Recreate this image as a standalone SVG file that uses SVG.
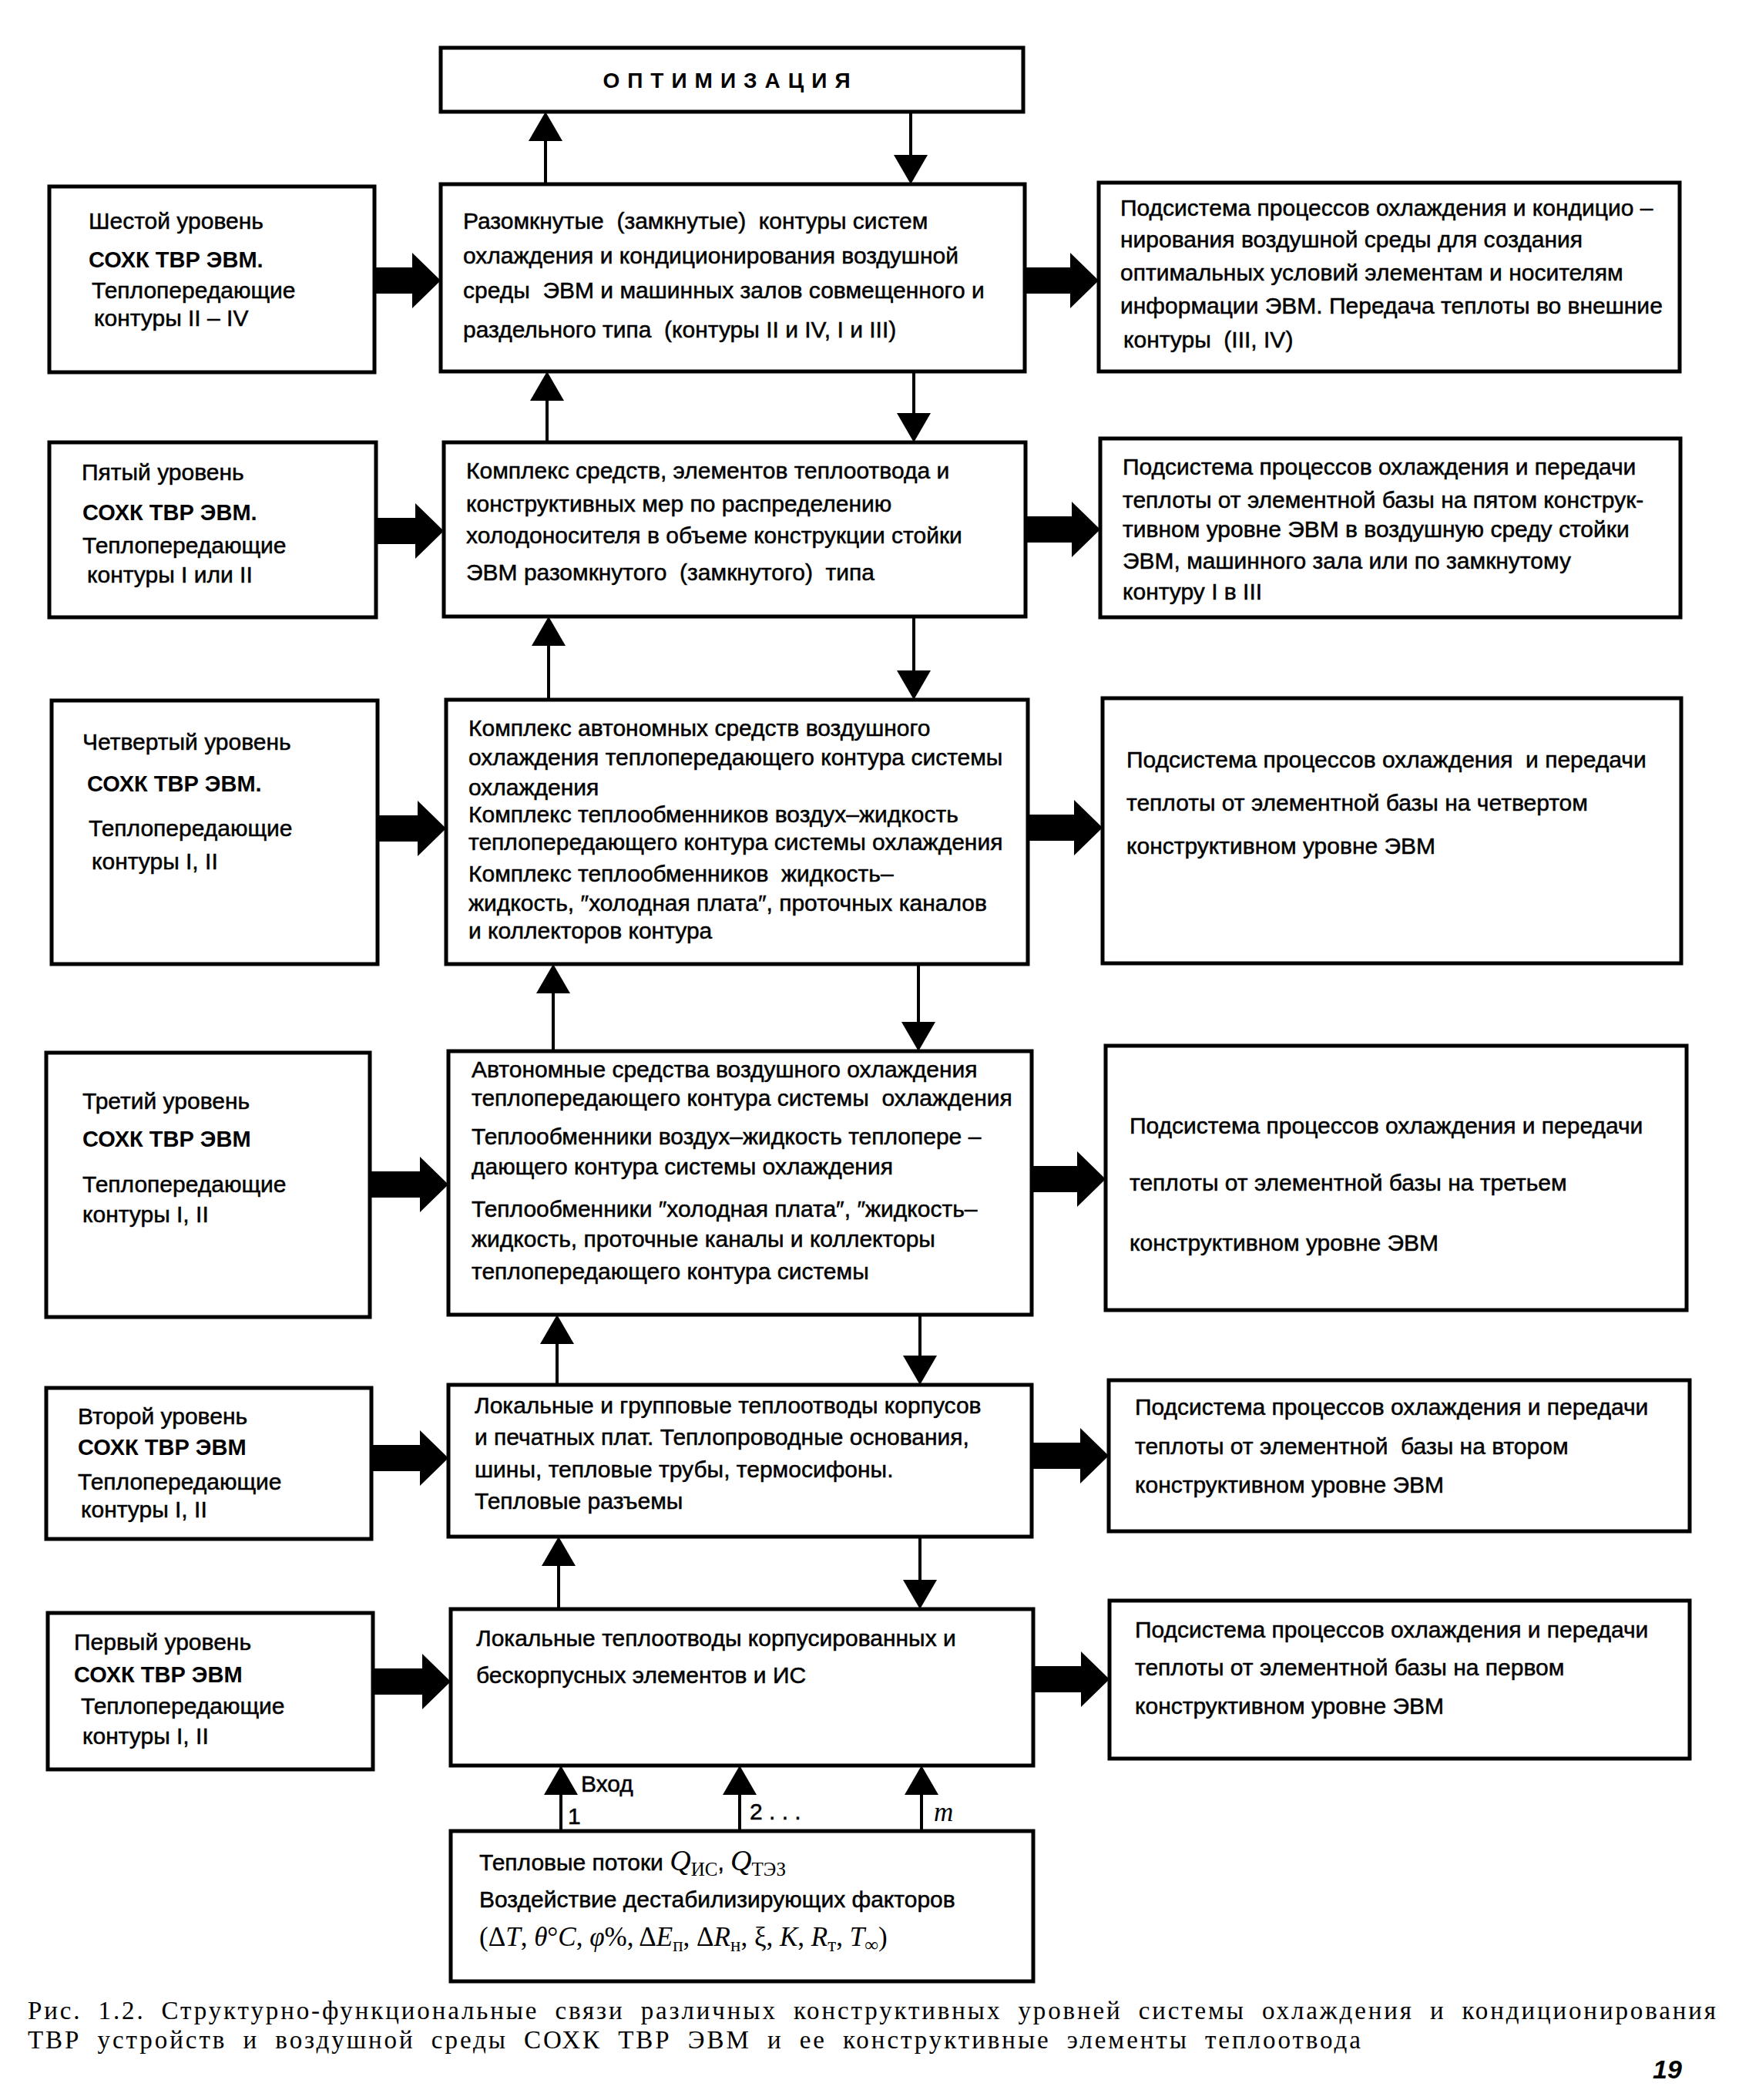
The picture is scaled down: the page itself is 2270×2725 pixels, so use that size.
<svg xmlns="http://www.w3.org/2000/svg" width="2270" height="2725" viewBox="0 0 2270 2725">
<style>
.box{fill:#fff;stroke:#000;stroke-width:5}
.t{font-family:"Liberation Sans",Arial,sans-serif;font-size:30px;fill:#000;stroke:#000;stroke-width:0.5px;white-space:pre}
.b{font-size:29px;font-weight:bold;stroke-width:0}
.opt{font-family:"Liberation Sans",Arial,sans-serif;font-size:28px;font-weight:bold;letter-spacing:10px}
.ln{stroke:#000;stroke-width:4;fill:none;marker-end:url(#ah)}
.fat{fill:#000}
.ser{font-family:"Liberation Serif","Times New Roman",serif;font-size:35px;fill:#000;stroke-width:0}
.q{font-size:38px}
.it{font-style:italic}
.sb{font-size:25px}
.cap{font-family:"Liberation Serif","Times New Roman",serif;font-size:33px;fill:#000;word-spacing:10px}
.pg{font-family:"Liberation Sans",Arial,sans-serif;font-size:34px;font-weight:bold;font-style:italic}
</style>
<defs>
<marker id="ah" markerUnits="userSpaceOnUse" markerWidth="40" markerHeight="44" viewBox="0 0 38 44" refX="28" refY="22" orient="auto">
<path d="M0,0 L38,22 L0,44 Z" fill="#000"/>
</marker>
</defs>

<g id="connectors">
<line class="ln" x1="708" y1="239" x2="708" y2="155"/>
<line class="ln" x1="1182" y1="145" x2="1182" y2="229"/>
<line class="ln" x1="710" y1="574" x2="710" y2="492"/>
<line class="ln" x1="1186" y1="482" x2="1186" y2="564"/>
<line class="ln" x1="712" y1="908" x2="712" y2="810"/>
<line class="ln" x1="1186" y1="800" x2="1186" y2="898"/>
<line class="ln" x1="718" y1="1364" x2="718" y2="1261"/>
<line class="ln" x1="1192" y1="1251" x2="1192" y2="1354"/>
<line class="ln" x1="723" y1="1797" x2="723" y2="1716"/>
<line class="ln" x1="1194" y1="1706" x2="1194" y2="1787"/>
<line class="ln" x1="725" y1="2088" x2="725" y2="2004"/>
<line class="ln" x1="1194" y1="1994" x2="1194" y2="2078"/>
<line class="ln" x1="728" y1="2376" x2="728" y2="2301"/>
<line class="ln" x1="960" y1="2376" x2="960" y2="2301"/>
<line class="ln" x1="1196" y1="2376" x2="1196" y2="2301"/>
<path class="fat" d="M486,347 H535 V328 L572,364 L535,400 V381 H486 Z"/>
<path class="fat" d="M488,672 H539 V653 L576,689 L539,725 V706 H488 Z"/>
<path class="fat" d="M490,1058 H542 V1039 L579,1075 L542,1111 V1092 H490 Z"/>
<path class="fat" d="M480,1520 H545 V1501 L582,1537 L545,1573 V1554 H480 Z"/>
<path class="fat" d="M482,1875 H545 V1856 L582,1892 L545,1928 V1909 H482 Z"/>
<path class="fat" d="M484,2165 H548 V2146 L585,2182 L548,2218 V2199 H484 Z"/>
<path class="fat" d="M1330,347 H1389 V328 L1426,364 L1389,400 V381 H1330 Z"/>
<path class="fat" d="M1331,670 H1391 V651 L1428,687 L1391,723 V704 H1331 Z"/>
<path class="fat" d="M1334,1057 H1394 V1038 L1431,1074 L1394,1110 V1091 H1334 Z"/>
<path class="fat" d="M1336,1513 H1398 V1494 L1435,1530 L1398,1566 V1547 H1336 Z"/>
<path class="fat" d="M1339,1872 H1402 V1853 L1439,1889 L1402,1925 V1906 H1339 Z"/>
<path class="fat" d="M1341,2162 H1403 V2143 L1440,2179 L1403,2215 V2196 H1341 Z"/>
</g>

<g id="opt">
<rect class="box" x="572" y="62" width="756" height="83"/>
<text class="opt" x="948" y="114" text-anchor="middle">ОПТИМИЗАЦИЯ</text>
</g>

<g id="L6">
<rect class="box" x="64" y="242" width="422" height="241"/>
<text class="t" x="115" y="297">Шестой уровень</text>
<text class="t b" x="115" y="347">СОХК ТВР ЭВМ.</text>
<text class="t" x="119" y="387">Теплопередающие</text>
<text class="t" x="122" y="423">контуры II – IV</text>
</g>
<g id="C6">
<rect class="box" x="572" y="239" width="758" height="243"/>
<text class="t" x="601" y="297">Разомкнутые  (замкнутые)  контуры систем</text>
<text class="t" x="601" y="342">охлаждения и кондиционирования воздушной</text>
<text class="t" x="601" y="387">среды  ЭВМ и машинных залов совмещенного и</text>
<text class="t" x="601" y="438">раздельного типа  (контуры II и IV, I и III)</text>
</g>
<g id="R6">
<rect class="box" x="1426" y="237" width="754" height="245"/>
<text class="t" x="1454" y="280">Подсистема процессов охлаждения и кондицио –</text>
<text class="t" x="1454" y="321">нирования воздушной среды для создания</text>
<text class="t" x="1454" y="364">оптимальных условий элементам и носителям</text>
<text class="t" x="1454" y="407">информации ЭВМ. Передача теплоты во внешние</text>
<text class="t" x="1458" y="451">контуры  (III, IV)</text>
</g>

<g id="L5">
<rect class="box" x="64" y="574" width="424" height="227"/>
<text class="t" x="106" y="623">Пятый уровень</text>
<text class="t b" x="107" y="675">СОХК ТВР ЭВМ.</text>
<text class="t" x="107" y="718">Теплопередающие</text>
<text class="t" x="113" y="756">контуры I или II</text>
</g>
<g id="C5">
<rect class="box" x="576" y="574" width="755" height="226"/>
<text class="t" x="605" y="621">Комплекс средств, элементов теплоотвода и</text>
<text class="t" x="605" y="664">конструктивных мер по распределению</text>
<text class="t" x="605" y="705">холодоносителя в объеме конструкции стойки</text>
<text class="t" x="605" y="753">ЭВМ разомкнутого  (замкнутого)  типа</text>
</g>
<g id="R5">
<rect class="box" x="1428" y="569" width="753" height="232"/>
<text class="t" x="1457" y="616">Подсистема процессов охлаждения и передачи</text>
<text class="t" x="1457" y="659">теплоты от элементной базы на пятом конструк-</text>
<text class="t" x="1457" y="697">тивном уровне ЭВМ в воздушную среду стойки</text>
<text class="t" x="1457" y="738">ЭВМ, машинного зала или по замкнутому</text>
<text class="t" x="1457" y="778">контуру I в III</text>
</g>

<g id="L4">
<rect class="box" x="67" y="909" width="423" height="342"/>
<text class="t" x="107" y="973">Четвертый уровень</text>
<text class="t b" x="113" y="1027">СОХК ТВР ЭВМ.</text>
<text class="t" x="115" y="1085">Теплопередающие</text>
<text class="t" x="119" y="1128">контуры I, II</text>
</g>
<g id="C4">
<rect class="box" x="579" y="908" width="755" height="343"/>
<text class="t" x="608" y="955">Комплекс автономных средств воздушного</text>
<text class="t" x="608" y="993">охлаждения теплопередающего контура системы</text>
<text class="t" x="608" y="1032">охлаждения</text>
<text class="t" x="608" y="1067">Комплекс теплообменников воздух–жидкость</text>
<text class="t" x="608" y="1103">теплопередающего контура системы охлаждения</text>
<text class="t" x="608" y="1144">Комплекс теплообменников  жидкость–</text>
<text class="t" x="608" y="1182">жидкость, ″холодная плата″, проточных каналов</text>
<text class="t" x="608" y="1218">и коллекторов контура</text>
</g>
<g id="R4">
<rect class="box" x="1431" y="906" width="751" height="344"/>
<text class="t" x="1462" y="996">Подсистема процессов охлаждения  и передачи</text>
<text class="t" x="1462" y="1052">теплоты от элементной базы на четвертом</text>
<text class="t" x="1462" y="1108">конструктивном уровне ЭВМ</text>
</g>

<g id="L3">
<rect class="box" x="60" y="1366" width="420" height="343"/>
<text class="t" x="107" y="1439">Третий уровень</text>
<text class="t b" x="107" y="1488">СОХК ТВР ЭВМ</text>
<text class="t" x="107" y="1547">Теплопередающие</text>
<text class="t" x="107" y="1586">контуры I, II</text>
</g>
<g id="C3">
<rect class="box" x="582" y="1364" width="757" height="342"/>
<text class="t" x="612" y="1398">Автономные средства воздушного охлаждения</text>
<text class="t" x="612" y="1435">теплопередающего контура системы  охлаждения</text>
<text class="t" x="612" y="1485">Теплообменники воздух–жидкость теплопере –</text>
<text class="t" x="612" y="1524">дающего контура системы охлаждения</text>
<text class="t" x="612" y="1579">Теплообменники ″холодная плата″, ″жидкость–</text>
<text class="t" x="612" y="1618">жидкость, проточные каналы и коллекторы</text>
<text class="t" x="612" y="1660">теплопередающего контура системы</text>
</g>
<g id="R3">
<rect class="box" x="1435" y="1357" width="754" height="343"/>
<text class="t" x="1466" y="1471">Подсистема процессов охлаждения и передачи</text>
<text class="t" x="1466" y="1545">теплоты от элементной базы на третьем</text>
<text class="t" x="1466" y="1623">конструктивном уровне ЭВМ</text>
</g>

<g id="L2">
<rect class="box" x="60" y="1801" width="422" height="196"/>
<text class="t" x="101" y="1848">Второй уровень</text>
<text class="t b" x="101" y="1888">СОХК ТВР ЭВМ</text>
<text class="t" x="101" y="1933">Теплопередающие</text>
<text class="t" x="105" y="1969">контуры I, II</text>
</g>
<g id="C2">
<rect class="box" x="582" y="1797" width="757" height="197"/>
<text class="t" x="616" y="1834">Локальные и групповые теплоотводы корпусов</text>
<text class="t" x="616" y="1875">и печатных плат. Теплопроводные основания,</text>
<text class="t" x="616" y="1917">шины, тепловые трубы, термосифоны.</text>
<text class="t" x="616" y="1958">Тепловые разъемы</text>
</g>
<g id="R2">
<rect class="box" x="1439" y="1791" width="754" height="196"/>
<text class="t" x="1473" y="1836">Подсистема процессов охлаждения и передачи</text>
<text class="t" x="1473" y="1887">теплоты от элементной  базы на втором</text>
<text class="t" x="1473" y="1937">конструктивном уровне ЭВМ</text>
</g>

<g id="L1">
<rect class="box" x="62" y="2093" width="422" height="203"/>
<text class="t" x="96" y="2141">Первый уровень</text>
<text class="t b" x="96" y="2183">СОХК ТВР ЭВМ</text>
<text class="t" x="105" y="2224">Теплопередающие</text>
<text class="t" x="107" y="2263">контуры I, II</text>
</g>
<g id="C1">
<rect class="box" x="585" y="2088" width="756" height="203"/>
<text class="t" x="618" y="2136">Локальные теплоотводы корпусированных и</text>
<text class="t" x="618" y="2184">бескорпусных элементов и ИС</text>
</g>
<g id="R1">
<rect class="box" x="1440" y="2077" width="753" height="205"/>
<text class="t" x="1473" y="2125">Подсистема процессов охлаждения и передачи</text>
<text class="t" x="1473" y="2174">теплоты от элементной базы на первом</text>
<text class="t" x="1473" y="2224">конструктивном уровне ЭВМ</text>
</g>

<g id="labels">
<text class="t" x="754" y="2325">Вход</text>
<text class="t" x="737" y="2367">1</text>
<text class="t" x="973" y="2361">2 . . .</text>
<text class="ser it" x="1212" y="2363">m</text>
</g>

<g id="IN">
<rect class="box" x="585" y="2376" width="756" height="195"/>
<text class="t" x="622" y="2427">Тепловые потоки <tspan class="ser q it">Q</tspan><tspan class="ser sb" dy="7">ИС</tspan><tspan dy="-7">, </tspan><tspan class="ser q it">Q</tspan><tspan class="ser sb" dy="7">ТЭЗ</tspan></text>
<text class="t" x="622" y="2475">Воздействие дестабилизирующих факторов</text>
<text class="ser" x="622" y="2525">(Δ<tspan class="it">T</tspan>, <tspan class="it">θ</tspan>°<tspan class="it">C</tspan>, <tspan class="it">φ</tspan>%, Δ<tspan class="it">E</tspan><tspan class="sb" dy="7">п</tspan><tspan dy="-7">, Δ</tspan><tspan class="it">R</tspan><tspan class="sb" dy="7">н</tspan><tspan dy="-7">, ξ, </tspan><tspan class="it">K</tspan>, <tspan class="it">R</tspan><tspan class="sb" dy="7">т</tspan><tspan dy="-7">, </tspan><tspan class="it">T</tspan><tspan class="sb" dy="7">∞</tspan><tspan dy="-7">)</tspan></text>
</g>

<g id="caption">
<text class="cap" x="36" y="2620" textLength="2191" lengthAdjust="spacing">Рис. 1.2. Структурно-функциональные связи различных конструктивных уровней системы  охлаждения и кондиционирования</text>
<text class="cap" x="36" y="2658" textLength="1730" lengthAdjust="spacing">ТВР устройств и воздушной среды СОХК ТВР ЭВМ и ее конструктивные элементы теплоотвода</text>
<text class="pg" x="2145" y="2697">19</text>
</g>
</svg>
